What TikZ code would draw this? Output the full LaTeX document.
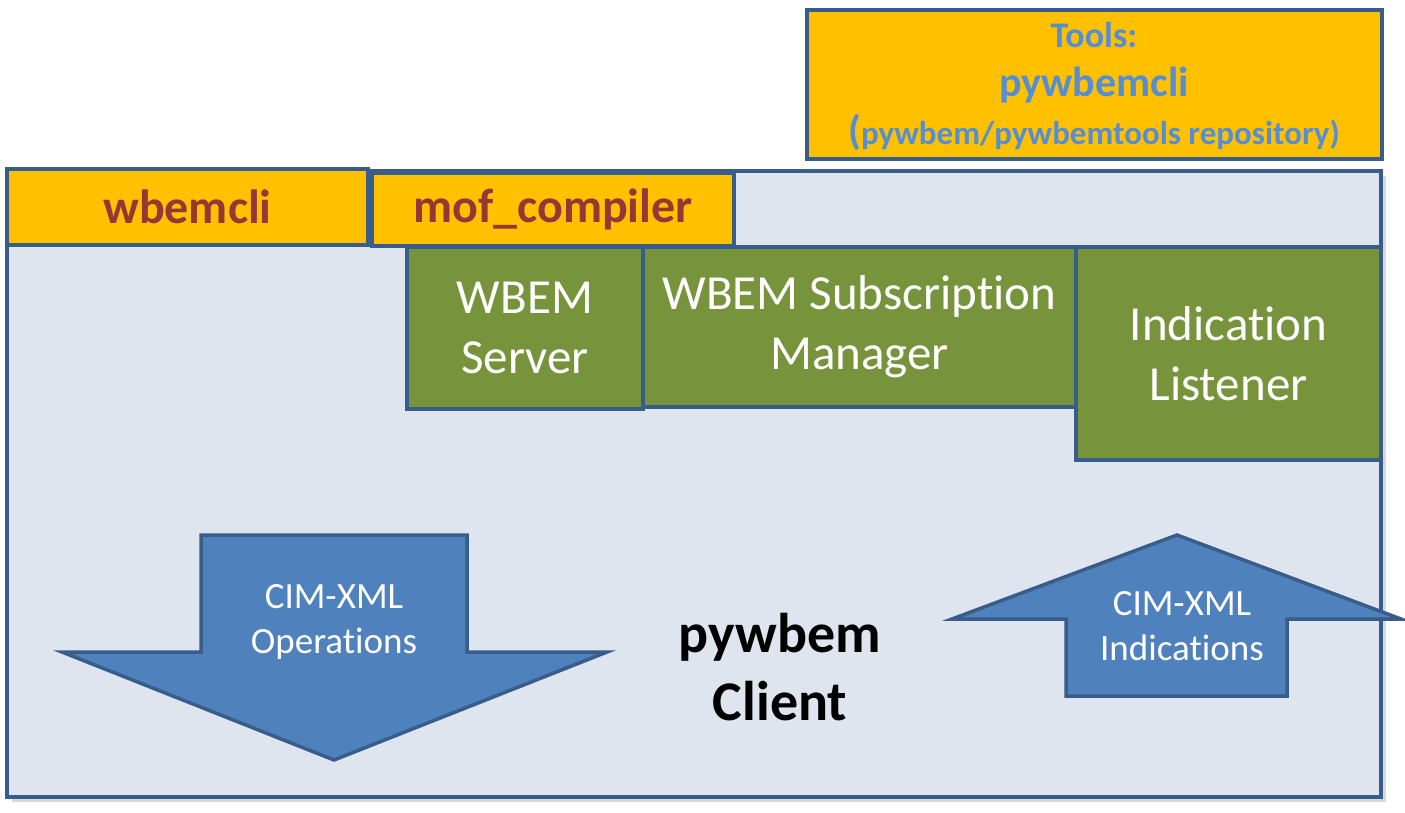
\documentclass[tikz,border=0pt]{standalone}
\usepackage{fontspec}
\setmainfont{Carlito}[Ligatures={CommonOff,ContextualOff,RareOff,RequiredOff}]
\usetikzlibrary{positioning,shadows}
\definecolor{edgeblue}{HTML}{385D8A}
\definecolor{clientbg}{HTML}{DEE5EE}
\definecolor{toolorange}{HTML}{FFC000}
\definecolor{tooltext}{HTML}{953735}
\definecolor{linkblue}{HTML}{558ED5}
\definecolor{pkggreen}{HTML}{77933C}
\definecolor{arrowblue}{HTML}{4F81BD}

\begin{document}
\begin{tikzpicture}[x=1pt,y=-1pt,line width=3.5pt,
  every node/.style={outer sep=0pt,inner sep=0pt},
  frame/.style={draw=edgeblue,rectangle,anchor=north west},
  toolbox/.style={frame,fill=toolorange,text=tooltext,font=\bfseries\fontsize{48}{58}\selectfont},
  toolline/.style={text=linkblue,anchor=base},
  pkgbox/.style={frame,fill=pkggreen,text=white,align=center,font=\fontsize{49}{60}\selectfont},
  flow/.style={draw=edgeblue,fill=arrowblue,line join=miter},
  flowtext/.style={text=white,align=center,font=\fontsize{37}{45}\selectfont}]
  \useasboundingbox (0,0) rectangle (1405,813);

  % client area and tool tabs
  \node[frame,fill=clientbg,minimum width=1374pt,minimum height=626pt,
        drop shadow={shadow xshift=5pt,shadow yshift=-5pt,fill=black,opacity=.15}] (client) at (7,171) {};
  \node[toolbox,minimum width=361pt,minimum height=76pt] (wbemcli) at (7,169) {wbemcli};
  \node[toolbox,minimum width=362pt,minimum height=73pt] (mof) at (372,173) {mof\_compiler};
  \node[frame,fill=toolorange,minimum width=575pt,minimum height=149pt] (tools) at (807,10) {};
  \node[toolline,font=\bfseries\fontsize{36}{44}\selectfont] (toolshead) at (1094,48) {Tools:};
  \node[toolline,font=\bfseries\fontsize{42}{50}\selectfont] (cli) at (1094,97) {pywbemcli};
  \node[toolline,font=\bfseries\fontsize{33}{40}\selectfont] (repo) at (1094,145)
    {{\fontsize{41}{40}\selectfont(}pywbem/pywbemtools repository)};

  % packages
  \node[pkgbox,minimum width=433pt,minimum height=160pt] (submgr) at (643,247) {WBEM Subscript\kern0pt ion\\Manager};
  \node[pkgbox,minimum width=236pt,minimum height=162pt] (server) at (407,247) {WBEM\\Server};
  \node[pkgbox,minimum width=305pt,minimum height=213pt] (listener)
    [right=0pt of submgr.north east,anchor=north west] {Indicat\kern0pt ion\\Listener};

  % flows
  \draw[flow] (201,535) -- (467,535) -- (467,652) -- (607,652) -- (334,760) -- (62,652) -- (201,652) -- cycle;
  \node[flowtext] (ops) at (334,622) {CIM-XML\\Operat\kern0pt ions};
  \draw[flow] (1177,535) -- (1401,619) -- (1287,619) -- (1287,696) -- (1066,696) -- (1066,619) -- (952,619) -- cycle;
  \node[flowtext] (ind) at (1182,626) {CIM-XML\\Indicat\kern0pt ions};

  \node[font=\bfseries\fontsize{56}{68}\selectfont,align=center] (pyclient) at (780,667) {pywbem\\Client};
\end{tikzpicture}
\end{document}
